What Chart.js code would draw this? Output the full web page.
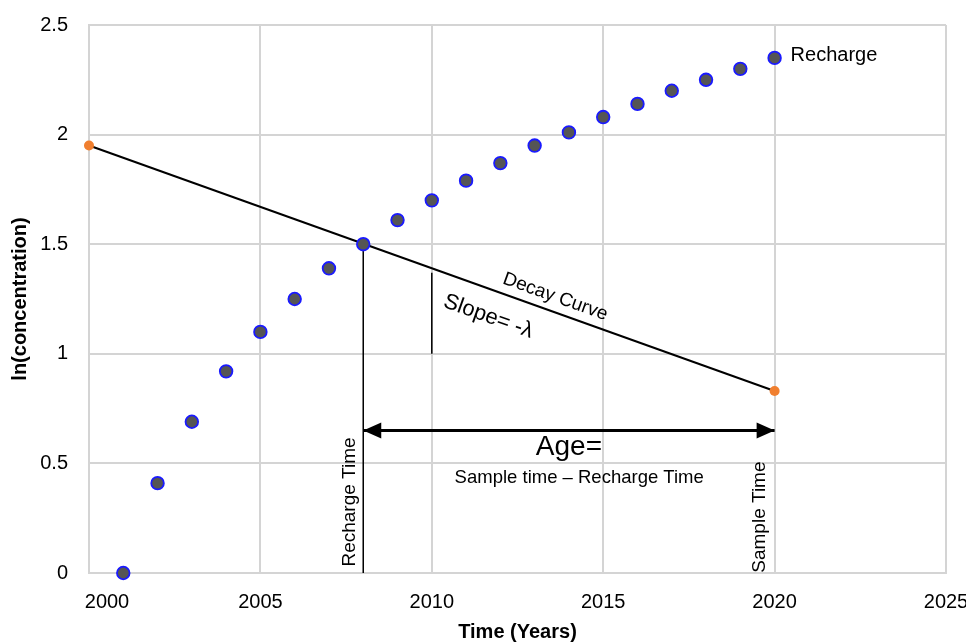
<!DOCTYPE html>
<html>
<head>
<meta charset="utf-8">
<title>Groundwater age from decay</title>
<script src="https://cdn.jsdelivr.net/npm/chart.js@4.4.1/dist/chart.umd.min.js"></script>
<style>
  html, body { margin: 0; padding: 0; background: #ffffff; }
  #wrap { width: 966px; height: 643px; }
</style>
</head>
<body>
<div id="wrap"><canvas id="chart" width="966" height="643"></canvas></div>
<script>
// Recharge record: ln(concentration) by year
const rechargeYears = [2001, 2002, 2003, 2004, 2005, 2006, 2007, 2008, 2009, 2010,
                       2011, 2012, 2013, 2014, 2015, 2016, 2017, 2018, 2019, 2020];
const rechargeLn = [0.00, 0.41, 0.69, 0.92, 1.10, 1.25, 1.39, 1.50, 1.61, 1.70,
                    1.79, 1.87, 1.95, 2.01, 2.08, 2.14, 2.20, 2.25, 2.30, 2.35];

// Decay curve end points (sample measured in 2020, projected back)
const decayYears = [2000, 2020];
const decayLn = [1.95, 0.83];

// Recharge time marker (where decay curve meets the recharge record)
const rechargeTimeYears = [2008, 2008];
const rechargeTimeLn = [1.50, 0.00];

// Slope marker under the decay curve
const slopeYears = [2010, 2010];
const slopeLn = [1.37, 1.00];

// Age arrow from recharge time to sample time
const ageYears = [2008, 2020];
const ageLn = [0.65, 0.65];

// Axis ticks
const xTickValues = [2000, 2005, 2010, 2015, 2020, 2025];
const yTickValues = [0, 0.5, 1, 1.5, 2, 2.5];

const FONT = "'Liberation Sans', Arial, sans-serif";
const GRID = '#d4d4d4';

const toPoints = (xs, ys) => xs.map((x, i) => ({ x: x, y: ys[i] }));

// Text labels and arrowheads placed in data coordinates
const notes = {
  id: 'notes',
  afterDatasetsDraw(chart) {
    const ctx = chart.ctx;
    const xs = chart.scales.x, ys = chart.scales.y;
    const px = v => xs.getPixelForValue(v);
    const py = v => ys.getPixelForValue(v);
    ctx.save();
    ctx.fillStyle = '#000';

    // arrowheads on the age arrow
    const ay = py(ageLn[0]);
    const xl = px(ageYears[0]), xr = px(ageYears[1]);
    ctx.beginPath();
    ctx.moveTo(xl, ay); ctx.lineTo(xl + 18, ay - 8); ctx.lineTo(xl + 18, ay + 8); ctx.closePath();
    ctx.fill();
    ctx.beginPath();
    ctx.moveTo(xr, ay); ctx.lineTo(xr - 18, ay - 8); ctx.lineTo(xr - 18, ay + 8); ctx.closePath();
    ctx.fill();

    // series label next to the last recharge point
    const li = rechargeYears.length - 1;
    ctx.font = '20px ' + FONT;
    ctx.textAlign = 'left';
    ctx.textBaseline = 'middle';
    ctx.fillText('Recharge', px(rechargeYears[li]) + 16, py(rechargeLn[li]) - 2);

    // labels along the decay curve
    const ang = Math.atan2(py(decayLn[1]) - py(decayLn[0]), px(decayYears[1]) - px(decayYears[0]));
    const rotText = (txt, x, y, a, font) => {
      ctx.save();
      ctx.translate(x, y);
      ctx.rotate(a);
      ctx.font = font;
      ctx.textAlign = 'center';
      ctx.textBaseline = 'middle';
      ctx.fillText(txt, 0, 0);
      ctx.restore();
    };
    rotText('Decay Curve', px(2013.6), py(1.26), ang, '19px ' + FONT);
    rotText('Slope= -λ', px(2011.65), py(1.17), ang, '22px ' + FONT);

    // age formula
    rotText('Age=', px(2014.0), py(0.575), 0, '28px ' + FONT);
    rotText('Sample time \u2013 Recharge Time', px(2014.3), py(0.433), 0, '18.5px ' + FONT);

    // vertical time labels
    rotText('Recharge Time', px(2007.6), py(0.324), -Math.PI / 2, '19px ' + FONT);
    rotText('Sample Time', px(2019.56), py(0.255), -Math.PI / 2, '19px ' + FONT);

    // first x tick label sits just inside the plot edge
    ctx.font = '20px ' + FONT;
    ctx.textAlign = 'center';
    ctx.textBaseline = 'middle';
    ctx.fillText(String(xTickValues[0]), px(xTickValues[0]) + 18, 602);

    ctx.restore();
  }
};

new Chart(document.getElementById('chart'), {
  type: 'scatter',
  data: {
    datasets: [
      {
        label: 'Recharge',
        data: toPoints(rechargeYears, rechargeLn),
        showLine: false,
        pointRadius: 6.3,
        pointHoverRadius: 6.3,
        pointBackgroundColor: '#555555',
        pointBorderColor: '#1a1aff',
        pointBorderWidth: 1.8,
        clip: false,
        order: 0
      },
      {
        label: 'Decay Curve',
        data: toPoints(decayYears, decayLn),
        showLine: true,
        borderColor: '#000000',
        borderWidth: 2,
        pointRadius: 5,
        pointHoverRadius: 5,
        pointBackgroundColor: '#f07f2f',
        pointBorderWidth: 0,
        clip: false,
        order: 1
      },
      {
        label: 'Recharge Time',
        data: toPoints(rechargeTimeYears, rechargeTimeLn),
        showLine: true,
        borderColor: '#000000',
        borderWidth: 1.5,
        pointRadius: 0,
        clip: false,
        order: 2
      },
      {
        label: 'Slope',
        data: toPoints(slopeYears, slopeLn),
        showLine: true,
        borderColor: '#000000',
        borderWidth: 1.5,
        pointRadius: 0,
        order: 3
      },
      {
        label: 'Age',
        data: toPoints(ageYears, ageLn),
        showLine: true,
        borderColor: '#000000',
        borderWidth: 3,
        pointRadius: 0,
        order: 4
      }
    ]
  },
  options: {
    responsive: false,
    animation: false,
    events: [],
    layout: { padding: { top: 25, right: 20, left: 0, bottom: 0 } },
    plugins: {
      legend: { display: false },
      tooltip: { enabled: false }
    },
    scales: {
      x: {
        type: 'linear',
        min: xTickValues[0],
        max: xTickValues[xTickValues.length - 1],
        afterBuildTicks: s => { s.ticks = xTickValues.map(v => ({ value: v })); },
        afterFit: s => { s.height = 70; s.paddingLeft = 0; s.paddingRight = 0; },
        grid: { color: GRID, lineWidth: 2, drawTicks: false },
        border: { display: true, color: GRID, width: 2 },
        ticks: {
          padding: 17,
          maxRotation: 0,
          font: { family: FONT, size: 20 },
          color: c => (c.tick && c.tick.value === xTickValues[0]) ? 'rgba(0,0,0,0)' : '#000000',
          callback: v => String(v)
        },
        title: {
          display: true,
          text: 'Time (Years)',
          color: '#000000',
          font: { family: FONT, size: 20, weight: 'bold', lineHeight: 1.1 },
          padding: { top: 0, bottom: 0 }
        }
      },
      y: {
        type: 'linear',
        min: yTickValues[0],
        max: yTickValues[yTickValues.length - 1],
        afterBuildTicks: s => { s.ticks = yTickValues.map(v => ({ value: v })); },
        afterFit: s => { s.width = 89; s.paddingTop = 0; s.paddingBottom = 0; },
        grid: { color: GRID, lineWidth: 2, drawTicks: false },
        border: { display: true, color: GRID, width: 2 },
        ticks: {
          padding: 21,
          font: { family: FONT, size: 20 },
          color: '#000000',
          callback: v => String(v)
        },
        title: {
          display: true,
          text: 'ln(concentration)',
          color: '#000000',
          font: { family: FONT, size: 20, weight: 'bold', lineHeight: 1.1 },
          padding: { top: 9, bottom: 0 }
        }
      }
    }
  },
  plugins: [notes]
});
</script>
</body>
</html>
